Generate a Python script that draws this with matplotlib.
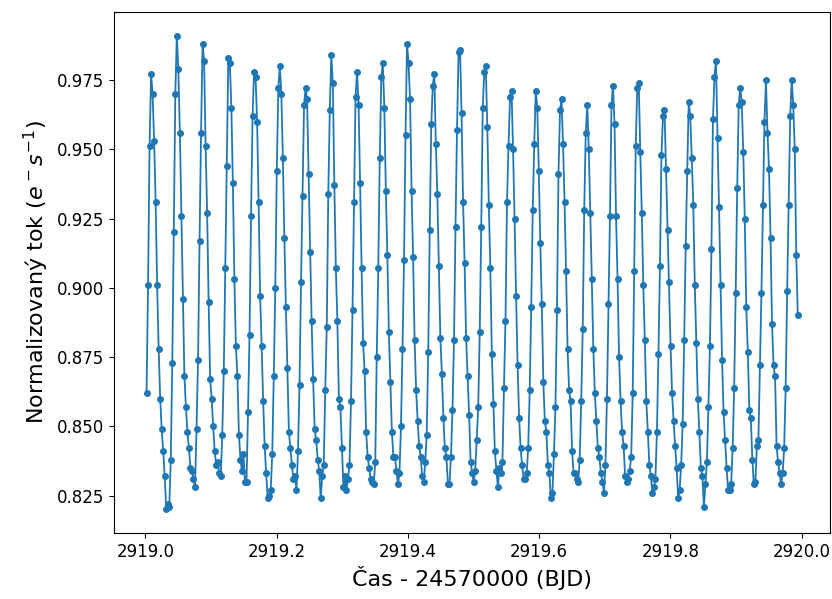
import numpy as np
import matplotlib
matplotlib.use("Agg")
import matplotlib.pyplot as plt

# time grid of the light curve (BJD - 2457000), ~200 s cadence
t_start = 2919.0017
cadence = 0.002308

# normalized flux, written pulse by pulse (each block starts at a maximum)
flux = [
    0.862, 0.901, 0.951,
    0.977, 0.970, 0.953, 0.931, 0.901, 0.878, 0.860, 0.849, 0.841, 0.832, 0.820, 0.822, 0.821, 0.838, 0.873, 0.920, 0.970,
    0.991, 0.979, 0.956, 0.926, 0.896, 0.868, 0.857, 0.848, 0.842, 0.835, 0.834, 0.831, 0.828, 0.849, 0.874, 0.917, 0.956,
    0.988, 0.982, 0.951, 0.927, 0.895, 0.867, 0.860, 0.850, 0.841, 0.836, 0.837, 0.833, 0.832, 0.847, 0.870, 0.907, 0.944,
    0.983, 0.981, 0.965, 0.938, 0.903, 0.879, 0.868, 0.847, 0.838, 0.834, 0.840, 0.830, 0.830, 0.855, 0.883, 0.926, 0.962,
    0.978, 0.976, 0.960, 0.931, 0.897, 0.879, 0.859, 0.843, 0.833, 0.824, 0.825, 0.827, 0.840, 0.868, 0.900, 0.942, 0.972,
    0.980, 0.970, 0.947, 0.918, 0.893, 0.871, 0.848, 0.842, 0.836, 0.831, 0.832, 0.827, 0.841, 0.865, 0.902, 0.933, 0.966,
    0.972, 0.968, 0.941, 0.913, 0.888, 0.867, 0.849, 0.845, 0.838, 0.834, 0.824, 0.832, 0.836, 0.863, 0.886, 0.934, 0.964,
    0.984, 0.974, 0.937, 0.907, 0.888, 0.860, 0.857, 0.842, 0.828, 0.832, 0.827, 0.831, 0.836, 0.859, 0.892, 0.931, 0.969,
    0.978, 0.966, 0.938, 0.907, 0.880, 0.870, 0.848, 0.839, 0.835, 0.831, 0.830, 0.829, 0.837, 0.875, 0.907, 0.947, 0.976,
    0.981, 0.965, 0.935, 0.912, 0.884, 0.866, 0.848, 0.839, 0.839, 0.834, 0.829, 0.833, 0.850, 0.878, 0.910, 0.955,
    0.988, 0.981, 0.968, 0.935, 0.911, 0.881, 0.863, 0.852, 0.843, 0.839, 0.832, 0.830, 0.837, 0.847, 0.877, 0.921, 0.959, 0.973,
    0.977, 0.952, 0.934, 0.908, 0.882, 0.869, 0.853, 0.842, 0.839, 0.829, 0.829, 0.839, 0.856, 0.881, 0.922, 0.957, 0.985,
    0.986, 0.963, 0.931, 0.909, 0.882, 0.868, 0.854, 0.837, 0.833, 0.830, 0.834, 0.845, 0.857, 0.884, 0.922, 0.965, 0.978,
    0.980, 0.958, 0.930, 0.907, 0.876, 0.858, 0.841, 0.834, 0.828, 0.835, 0.833, 0.837, 0.864, 0.888, 0.931, 0.951, 0.969,
    0.971, 0.950, 0.925, 0.897, 0.872, 0.853, 0.842, 0.836, 0.831, 0.831, 0.833, 0.842, 0.863, 0.893, 0.928, 0.952,
    0.971, 0.965, 0.942, 0.916, 0.894, 0.866, 0.852, 0.848, 0.836, 0.833, 0.824, 0.826, 0.840, 0.857, 0.892, 0.941, 0.964,
    0.968, 0.952, 0.931, 0.906, 0.878, 0.863, 0.859, 0.841, 0.833, 0.833, 0.831, 0.830, 0.838, 0.859, 0.885, 0.928, 0.956,
    0.966, 0.950, 0.927, 0.903, 0.878, 0.862, 0.852, 0.842, 0.839, 0.833, 0.830, 0.826, 0.836, 0.860, 0.894, 0.926, 0.966,
    0.973, 0.959, 0.926, 0.903, 0.875, 0.859, 0.848, 0.843, 0.832, 0.830, 0.831, 0.834, 0.839, 0.862, 0.906, 0.951, 0.972,
    0.974, 0.949, 0.927, 0.901, 0.881, 0.859, 0.848, 0.836, 0.832, 0.826, 0.828, 0.831, 0.848, 0.876, 0.908, 0.948, 0.962,
    0.964, 0.943, 0.921, 0.902, 0.879, 0.862, 0.852, 0.843, 0.835, 0.824, 0.827, 0.836, 0.851, 0.881, 0.915, 0.942,
    0.967, 0.962, 0.947, 0.930, 0.901, 0.880, 0.860, 0.848, 0.835, 0.832, 0.821, 0.829, 0.837, 0.857, 0.879, 0.914, 0.961, 0.976,
    0.982, 0.954, 0.929, 0.901, 0.874, 0.855, 0.845, 0.835, 0.827, 0.827, 0.829, 0.842, 0.864, 0.898, 0.936, 0.966,
    0.972, 0.967, 0.949, 0.925, 0.893, 0.877, 0.856, 0.853, 0.838, 0.829, 0.830, 0.843, 0.845, 0.872, 0.898, 0.930, 0.960,
    0.975, 0.956, 0.943, 0.918, 0.887, 0.872, 0.868, 0.843, 0.837, 0.833, 0.829, 0.833, 0.842, 0.864, 0.899, 0.930, 0.962,
    0.975, 0.966, 0.950, 0.912, 0.890,
]

time = t_start + cadence * np.arange(len(flux))

fig = plt.figure(figsize=(8.32, 5.99), dpi=100)
ax = fig.add_axes([0.137, 0.110, 0.861, 0.870])

ax.plot(time, flux, 'o-', color='#1f77b4', markersize=4, linewidth=1.3)

ax.ticklabel_format(axis='x', useOffset=False)
ax.set_xlabel('Čas - 24570000 (BJD)', fontsize=16)
ax.set_ylabel(r'Normalizovaný tok ($e^- s^{-1}$)', fontsize=16)
ax.tick_params(labelsize=12)

fig.savefig('out.png', dpi=100)
